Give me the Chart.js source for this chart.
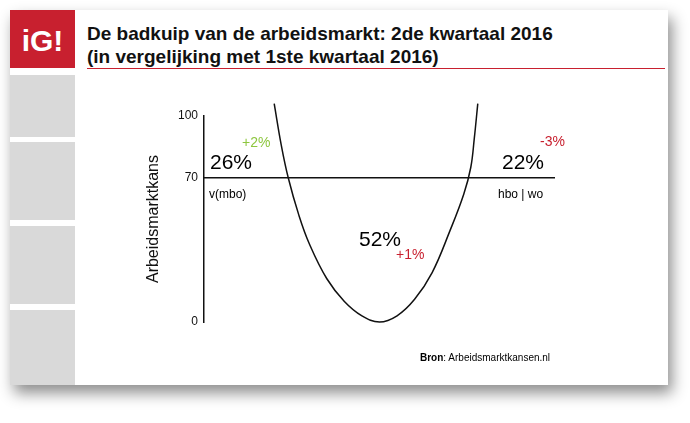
<!DOCTYPE html>
<html><head><meta charset="utf-8">
<script src="https://cdn.jsdelivr.net/npm/chart.js@4/dist/chart.umd.min.js"></script>
<style>
body{margin:0;width:690px;height:423px;background:#fff;font-family:Arial,"Liberation Sans",sans-serif;position:relative;overflow:hidden}
#slide{position:absolute;left:10px;top:10px;width:658px;height:375px;background:#fff;box-shadow:4px 8px 14px rgba(0,0,0,.45)}
.side{position:absolute;left:10px;width:65px;background:#d9d9d9}
#logo{position:absolute;left:10px;top:10px;width:65px;height:58px;background:#c8202f;color:#fff;font-size:30px;font-weight:bold;text-align:center;line-height:62px}
#title{position:absolute;left:87px;top:22px;font-size:19px;font-weight:bold;line-height:23px;color:#111}
#rule{position:absolute;left:87px;top:68px;width:578px;height:1px;background:#c8202f}
.t{position:absolute;white-space:nowrap}
#c{position:absolute;left:0;top:0}
</style></head><body>
<div id="slide"></div>
<div id="logo">iG!</div>
<div class="side" style="top:75px;height:62px"></div>
<div class="side" style="top:142px;height:78px"></div>
<div class="side" style="top:226px;height:78px"></div>
<div class="side" style="top:310px;height:75px"></div>
<div id="title">De badkuip van de arbeidsmarkt: 2de kwartaal 2016<br>(in vergelijking met 1ste kwartaal 2016)</div>
<div id="rule"></div>
<canvas id="c" width="690" height="423"></canvas>
<div class="t" style="left:210px;top:150px;font-size:21px">26%</div>
<div class="t" style="left:242px;top:134px;font-size:14px;color:#8dc63f">+2%</div>
<div class="t" style="left:502px;top:150px;font-size:21px">22%</div>
<div class="t" style="left:540px;top:133px;font-size:14px;color:#c8202f">-3%</div>
<div class="t" style="left:359px;top:227px;font-size:21px">52%</div>
<div class="t" style="left:396px;top:246px;font-size:14px;color:#c8202f">+1%</div>
<div class="t" style="left:209px;top:187px;font-size:12px">v(mbo)</div>
<div class="t" style="left:498px;top:187px;font-size:12px">hbo | wo</div>
<div class="t" style="left:420px;top:352px;font-size:10px"><b>Bron</b>: Arbeidsmarktkansen.nl</div>
<script>
// curve of the bathtub (x 0-100 across the axis, y = arbeidsmarktkans)
const curveX = [20, 22, 24, 27, 30, 35, 40, 45, 50, 55, 60, 65, 70, 74, 76, 77, 78];
const curveY = [106, 86, 70, 52, 38, 21, 10, 3, 0, 3, 11, 24, 44, 62, 75, 89, 106];
const lineX = [0, 100];
const lineY = [70, 70];
const yTicks = [0, 70, 100];

new Chart(document.getElementById('c'), {
  type: 'scatter',
  data: {
    datasets: [
      { data: curveX.map((x, i) => ({ x, y: curveY[i] })), showLine: true, tension: 0.4,
        borderColor: '#111', borderWidth: 1.5, pointRadius: 0, clip: false },
      { data: lineX.map((x, i) => ({ x, y: lineY[i] })), showLine: true,
        borderColor: '#111', borderWidth: 1.5, pointRadius: 0 }
    ]
  },
  options: {
    responsive: false, animation: false,
    layout: { padding: { left: 140, right: 135, top: 116, bottom: 101 } },
    plugins: { legend: { display: false }, tooltip: { enabled: false } },
    scales: {
      x: { min: 0, max: 100, display: false },
      y: {
        min: 0, max: 100,
        afterBuildTicks: s => { s.ticks = yTicks.map(v => ({ value: v })); },
        afterFit: s => { s.width = 64; },
        grid: { display: false, drawTicks: false },
        border: { color: '#111', width: 1.5 },
        ticks: { color: '#111', font: { size: 12, family: 'Arial' }, padding: 6 },
        title: { display: true, text: 'Arbeidsmarktkans', color: '#111', font: { size: 16, family: 'Arial' } }
      }
    }
  }
});
</script>
</body></html>
